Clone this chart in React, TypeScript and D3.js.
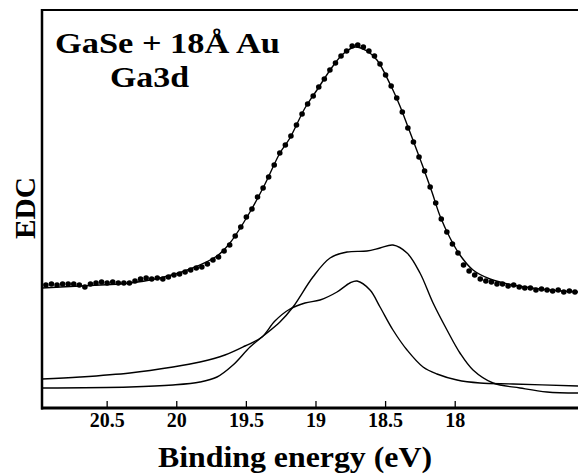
import React from "react";
import * as d3 from "d3";

// Binding energy tick labels
const tickValues = [20.5, 20, 19.5, 19, 18.5, 18];
const tickLabels = ["20.5", "20", "19.5", "19", "18.5", "18"];

// Measured EDC points (binding energy eV, intensity a.u.)
const dotE = [
  20.94, 20.9, 20.86, 20.82, 20.78, 20.74, 20.7, 20.66, 20.62, 20.58, 20.54, 20.5,
  20.46, 20.42, 20.38, 20.34, 20.3, 20.26, 20.22, 20.18, 20.14, 20.1, 20.06, 20.02,
  19.98, 19.94, 19.9, 19.86, 19.82, 19.78, 19.74, 19.7, 19.66, 19.62, 19.58, 19.54,
  19.5, 19.46, 19.42, 19.38, 19.34, 19.3, 19.26, 19.22, 19.18, 19.14, 19.1, 19.06,
  19.02, 18.98, 18.94, 18.9, 18.86, 18.82, 18.78, 18.74, 18.7, 18.66, 18.62, 18.58,
  18.54, 18.5, 18.46, 18.42, 18.38, 18.34, 18.3, 18.26, 18.22, 18.18, 18.14, 18.1,
  18.06, 18.02, 17.98, 17.94, 17.9, 17.86, 17.82, 17.78, 17.74, 17.7, 17.66, 17.62,
  17.58, 17.54, 17.5, 17.46, 17.42, 17.38, 17.34, 17.3, 17.26, 17.22, 17.18, 17.14,
];
const dotI = [
  123, 124, 123, 124, 124, 124, 123, 121, 124, 125, 126, 125,
  126, 125, 125, 125, 127, 129, 130, 129, 130, 129, 131, 133,
  134, 136, 138, 140, 141, 144, 148, 151, 157, 163, 172, 181,
  191, 199, 211, 220, 231, 243, 255, 263, 272, 283, 294, 304,
  312, 321, 329, 338, 345, 352, 357, 362, 363, 361, 357, 352,
  344, 333, 322, 310, 296, 280, 266, 251, 237, 221, 205, 189,
  176, 164, 155, 143, 137, 133, 129, 127, 126, 124, 124, 122,
  123, 121, 120, 120, 118, 119, 118, 117, 118, 116, 117, 116,
];

// Fit curve (sum of components + background)
const fitE = [
  20.968, 20.695, 20.336, 20.121, 19.905, 19.711, 19.618, 19.474, 19.366, 19.259,
  19.187, 19.079, 18.993, 18.878, 18.806, 18.72, 18.634, 18.562, 18.468, 18.397,
  18.339, 18.274, 18.231, 18.167, 18.109, 18.037, 17.966, 17.872, 17.75, 17.585,
  17.391, 17.118,
];
const fitI = [
  120, 122, 125, 130, 139, 152, 165, 196, 224, 255,
  270, 300, 318, 342, 354, 361, 357, 348, 324, 302,
  281, 257, 241, 216, 192, 170, 153, 138, 129, 123,
  119, 116,
];

// Component A (broad, double-humped)
const compAE = [
  20.968, 20.336, 20.027, 19.833, 19.711, 19.596, 19.474, 19.388, 19.259, 19.165,
  19.022, 18.899, 18.777, 18.634, 18.54, 18.447, 18.346, 18.253, 18.159, 18.059,
  17.966, 17.872, 17.728, 17.534, 17.341, 17.118,
];
const compAI = [
  20, 21, 23, 26, 31, 43, 61, 71, 86, 101,
  131, 150, 156, 157, 160, 163, 155, 135, 105, 78,
  55, 38, 25, 20, 16, 15,
];

// Component B (narrower, with shoulder)
const compBE = [
  20.968, 20.695, 20.336, 20.027, 19.833, 19.654, 19.51, 19.388, 19.295, 19.187,
  19.079, 18.971, 18.849, 18.756, 18.705, 18.612, 18.54, 18.447, 18.346, 18.231,
  18.131, 17.987, 17.822, 17.585, 17.118,
];
const compBI = [
  29, 31, 35, 41, 46, 53, 62, 71, 87, 99,
  105, 108, 116, 125, 127, 118, 101, 78, 58, 41,
  34, 28, 25, 24, 22,
];

const W = 578;
const H = 475;
const left = 42;
const right = 578;
const top = 10;
const bottom = 408;

export default function App() {
  const x = d3.scaleLinear().domain([20.968, 17.118]).range([left, right]);
  const y = d3.scaleLinear().domain([0, 398]).range([bottom, top]);

  const line = d3
    .line<[number, number]>()
    .x((d) => x(d[0]))
    .y((d) => y(d[1]))
    .curve(d3.curveCatmullRom.alpha(0.5));

  const fitPath = line(fitE.map((e, i) => [e, fitI[i]]) as [number, number][]) || "";
  const aPath = line(compAE.map((e, i) => [e, compAI[i]]) as [number, number][]) || "";
  const bPath = line(compBE.map((e, i) => [e, compBI[i]]) as [number, number][]) || "";

  const font = "'Liberation Serif', 'Times New Roman', serif";

  return (
    <svg
      width={W}
      height={H}
      style={{ position: "absolute", left: 0, top: 0, background: "#fff" }}
    >
      <rect x={0} y={0} width={W} height={H} fill="#fff" />
      <defs>
        <clipPath id="plot">
          <rect x={left} y={top} width={right - left} height={bottom - top} />
        </clipPath>
      </defs>
      <g clipPath="url(#plot)" fill="none" stroke="#000" strokeWidth={1.4}>
        <path d={aPath} />
        <path d={bPath} />
        <path d={fitPath} />
      </g>
      <g fill="#000">
        {dotE.map((e, i) => (
          <circle key={i} cx={x(e)} cy={y(dotI[i])} r={2.8} />
        ))}
      </g>
      {/* frame */}
      <line x1={left} x2={right} y1={top} y2={top} stroke="#000" strokeWidth={2} />
      <line x1={left} x2={left} y1={top - 1} y2={bottom + 1.5} stroke="#000" strokeWidth={2.5} />
      <line x1={left - 1} x2={right} y1={bottom} y2={bottom} stroke="#000" strokeWidth={3} />
      {tickValues.map((t, i) => (
        <g key={t}>
          <line x1={x(t)} x2={x(t)} y1={bottom} y2={bottom - 7} stroke="#000" strokeWidth={1.3} />
          <text
            x={x(t)}
            y={427}
            textAnchor="middle"
            fontFamily={font}
            fontWeight="bold"
            fontSize={20}
          >
            {tickLabels[i]}
          </text>
        </g>
      ))}
      <text
        x={158}
        y={467}
        fontFamily={font}
        fontWeight="bold"
        fontSize={29}
        textLength={274}
        lengthAdjust="spacingAndGlyphs"
      >
        Binding energy (eV)
      </text>
      <text
        transform="translate(35,208) rotate(-90)"
        textAnchor="middle"
        fontFamily={font}
        fontWeight="bold"
        fontSize={29}
        textLength={62}
        lengthAdjust="spacingAndGlyphs"
      >
        EDC
      </text>
      <text
        x={55}
        y={53}
        fontFamily={font}
        fontWeight="bold"
        fontSize={30}
        textLength={225}
        lengthAdjust="spacingAndGlyphs"
      >
        GaSe + 18Å Au
      </text>
      <text
        x={110}
        y={87}
        fontFamily={font}
        fontWeight="bold"
        fontSize={30}
        textLength={79}
        lengthAdjust="spacingAndGlyphs"
      >
        Ga3d
      </text>
    </svg>
  );
}
